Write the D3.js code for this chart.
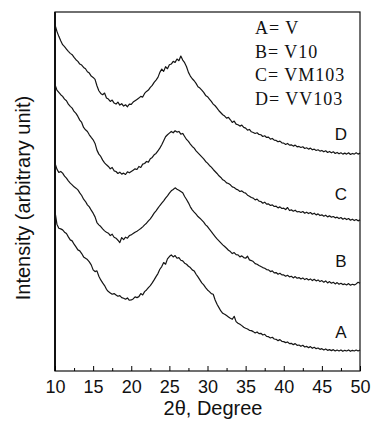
<!DOCTYPE html>
<html>
<head>
<meta charset="utf-8">
<script src="https://cdn.jsdelivr.net/npm/d3@7"></script>
<style>
    body { margin: 0; background: #fff; }
    svg { display: block; }
</style>
</head>
<body>
<div id="chart"></div>
<script>
// 2theta grid: 10 -> 50 degree, every 0.25
const thetaStart = 10;
const thetaEnd = 50;

// Intensities (arbitrary unit, already offset for stacking)
const curveA = [
    478, 440, 428, 426, 423, 416, 412, 402, 393, 390, 380, 372, 363, 360, 352, 342,
    338, 334, 327, 318, 303, 298, 300, 284, 273, 264, 256, 245, 238, 234, 230, 232,
    228, 224, 226, 220, 218, 215, 219, 212, 213, 216, 222, 220, 223, 232, 228, 238,
    243, 250, 256, 264, 273, 283, 292, 305, 313, 325, 320, 336, 343, 348, 342, 346,
    338, 340, 332, 330, 323, 320, 314, 310, 303, 300, 290, 282, 273, 264, 258, 250,
    243, 238, 232, 230, 213, 200, 190, 180, 173, 170, 166, 162, 158, 155, 164, 148,
    143, 140, 136, 131, 128, 126, 122, 121, 118, 114, 117, 112, 113, 108, 110, 104,
    103, 99, 101, 96, 95, 91, 94, 89, 88, 85, 87, 82, 83, 79, 82, 77,
    78, 74, 77, 72, 74, 70, 73, 68, 71, 67, 69, 65, 67, 63, 66, 62,
    64, 61, 64, 60, 63, 60, 63, 59, 62, 60, 63, 59, 62, 60, 63, 60,
    63
];
const curveB = [
    623, 605, 595, 598, 593, 584, 578, 570, 563, 558, 552, 548, 543, 534, 526, 515,
    508, 498, 492, 482, 473, 462, 445, 438, 433, 426, 420, 416, 413, 406, 410, 401,
    398, 392, 385, 400, 394, 401, 398, 406, 408, 412, 416, 419, 423, 427, 432, 438,
    443, 450, 456, 464, 473, 480, 488, 496, 503, 510, 518, 525, 533, 540, 544, 549,
    545, 542, 538, 534, 523, 514, 504, 492, 483, 476, 470, 463, 458, 452, 446, 438,
    433, 425, 418, 410, 403, 396, 390, 384, 378, 373, 368, 362, 358, 352, 355, 349,
    348, 342, 345, 340, 338, 344, 333, 331, 328, 322, 320, 316, 313, 310, 308, 304,
    303, 298, 300, 294, 295, 290, 293, 288, 288, 284, 287, 282, 284, 279, 283, 278,
    280, 276, 279, 274, 277, 273, 276, 271, 275, 270, 273, 268, 271, 266, 270, 264,
    268, 263, 266, 261, 265, 260, 263, 259, 261, 258, 262, 257, 260, 258, 261, 266,
    263
];
const curveC = [
    858, 842, 835, 828, 823, 815, 810, 800, 793, 788, 778, 772, 763, 752, 745, 730,
    723, 718, 708, 700, 693, 682, 662, 650, 643, 632, 624, 618, 613, 606, 610, 600,
    598, 592, 596, 590, 593, 589, 597, 594, 598, 602, 606, 604, 613, 610, 620, 622,
    628, 626, 636, 640, 648, 652, 660, 668, 678, 690, 702, 708, 713, 718, 714, 720,
    716, 718, 710, 712, 703, 694, 688, 680, 673, 668, 660, 654, 648, 642, 636, 628,
    623, 616, 611, 604, 598, 592, 585, 580, 573, 570, 564, 562, 558, 552, 550, 545,
    543, 538, 540, 535, 533, 527, 524, 520, 518, 513, 515, 509, 508, 503, 506, 500,
    501, 496, 498, 493, 494, 489, 492, 487, 488, 484, 490, 481, 483, 479, 482, 477,
    478, 475, 478, 473, 476, 472, 475, 470, 473, 468, 471, 466, 468, 464, 467, 462,
    465, 461, 463, 459, 461, 457, 460, 455, 458, 454, 457, 452, 455, 451, 454, 450,
    453
];
const curveD = [
    1038, 1018, 1003, 990, 978, 972, 965, 958, 952, 948, 940, 933, 928, 920, 917, 910,
    906, 897, 893, 884, 880, 874, 855, 840, 832, 828, 833, 818, 815, 808, 812, 803,
    800, 806, 797, 801, 794, 798, 792, 800, 799, 806, 810, 814, 818, 823, 821, 832,
    838, 842, 850, 856, 865, 872, 880, 895, 905, 898, 912, 906, 918, 920, 928, 925,
    935, 930, 944, 932, 924, 912, 895, 884, 876, 870, 862, 852, 848, 842, 835, 826,
    822, 815, 808, 800, 795, 788, 780, 774, 768, 764, 758, 760, 753, 745, 749, 740,
    738, 734, 737, 730, 728, 722, 724, 717, 715, 712, 714, 709, 708, 703, 705, 700,
    701, 695, 697, 692, 691, 687, 689, 684, 683, 679, 682, 677, 678, 674, 677, 672,
    673, 670, 672, 667, 669, 665, 668, 663, 665, 661, 663, 659, 661, 657, 660, 655,
    658, 654, 657, 652, 655, 651, 654, 650, 653, 650, 654, 649, 652, 650, 654, 650,
    653
];

const curveNames = ["A", "B", "C", "D"];
const curveLabelAt = [338, 267, 200, 140]; // label baselines, px
const legendLines = ["A= V", "B= V10", "C= VM103", "D= VV103"];
const xTicks = [10, 15, 20, 25, 30, 35, 40, 45, 50];

const width = 371, height = 426;
const margin = { top: 12, right: 11, bottom: 55, left: 55 };
const sans = "Liberation Sans, Arial, sans-serif";

const svg = d3.select("#chart").append("svg")
    .attr("width", width)
    .attr("height", height);

const x = d3.scaleLinear()
    .domain([thetaStart, thetaEnd])
    .range([margin.left, width - margin.right]);

const y = d3.scaleLinear()
    .domain([0, 1076])
    .range([height - margin.bottom, margin.top]);

const line = d3.line()
    .x(d => x(d[0]))
    .y(d => y(d[1]));

// pair each intensity with its 2theta
function toPoints(values) {
    const step = (thetaEnd - thetaStart) / (values.length - 1);
    return values.map((v, i) => [thetaStart + i * step, v]);
}

[curveA, curveB, curveC, curveD].forEach(values => {
    svg.append("path")
        .datum(toPoints(values))
        .attr("d", line)
        .attr("fill", "none")
        .attr("stroke", "#151515")
        .attr("stroke-width", 1.2)
        .attr("stroke-linejoin", "round");
});

// frame
svg.append("rect")
    .attr("x", margin.left)
    .attr("y", margin.top)
    .attr("width", width - margin.left - margin.right)
    .attr("height", height - margin.top - margin.bottom)
    .attr("fill", "none")
    .attr("stroke", "#111")
    .attr("stroke-width", 1.2);

// left side is drawn heavier in the scan
svg.append("line")
    .attr("x1", margin.left).attr("x2", margin.left)
    .attr("y1", margin.top).attr("y2", height - margin.bottom)
    .attr("stroke", "#111")
    .attr("stroke-width", 2);

// bottom axis, ticks pointing inside
const xAxis = svg.append("g")
    .attr("transform", `translate(0,${height - margin.bottom})`)
    .call(d3.axisBottom(x).tickValues(xTicks).tickSize(-5).tickPadding(9).tickFormat(d3.format("d")));
xAxis.select(".domain").remove();
xAxis.selectAll("text")
    .attr("font-family", sans)
    .attr("font-size", 18)
    .attr("fill", "#111");

svg.append("g")
    .attr("transform", `translate(0,${height - margin.bottom})`)
    .call(d3.axisBottom(x).tickValues(d3.range(12.5, 50, 5)).tickSize(-3).tickFormat(""))
    .select(".domain").remove();

svg.append("text")
    .attr("x", 213)
    .attr("y", 415)
    .attr("text-anchor", "middle")
    .attr("font-family", sans)
    .attr("font-size", 20)
    .attr("fill", "#111")
    .text("2θ, Degree");

svg.append("text")
    .attr("transform", "translate(30,198) rotate(-90)")
    .attr("text-anchor", "middle")
    .attr("font-family", sans)
    .attr("font-size", 20)
    .attr("fill", "#111")
    .text("Intensity (arbitrary unit)");

// legend (serif, as in the original figure)
svg.selectAll(".legend")
    .data(legendLines)
    .join("text")
    .attr("class", "legend")
    .attr("x", 255)
    .attr("y", (d, i) => 34 + i * 23.5)
    .attr("font-family", "Liberation Serif, Times New Roman, serif")
    .attr("font-size", 18)
    .attr("letter-spacing", 1)
    .attr("fill", "#111")
    .text(d => d);

svg.selectAll(".curve-label")
    .data(curveNames)
    .join("text")
    .attr("class", "curve-label")
    .attr("x", 341)
    .attr("y", (d, i) => curveLabelAt[i])
    .attr("text-anchor", "middle")
    .attr("font-family", sans)
    .attr("font-size", 17)
    .attr("fill", "#111")
    .text(d => d);
</script>
</body>
</html>
